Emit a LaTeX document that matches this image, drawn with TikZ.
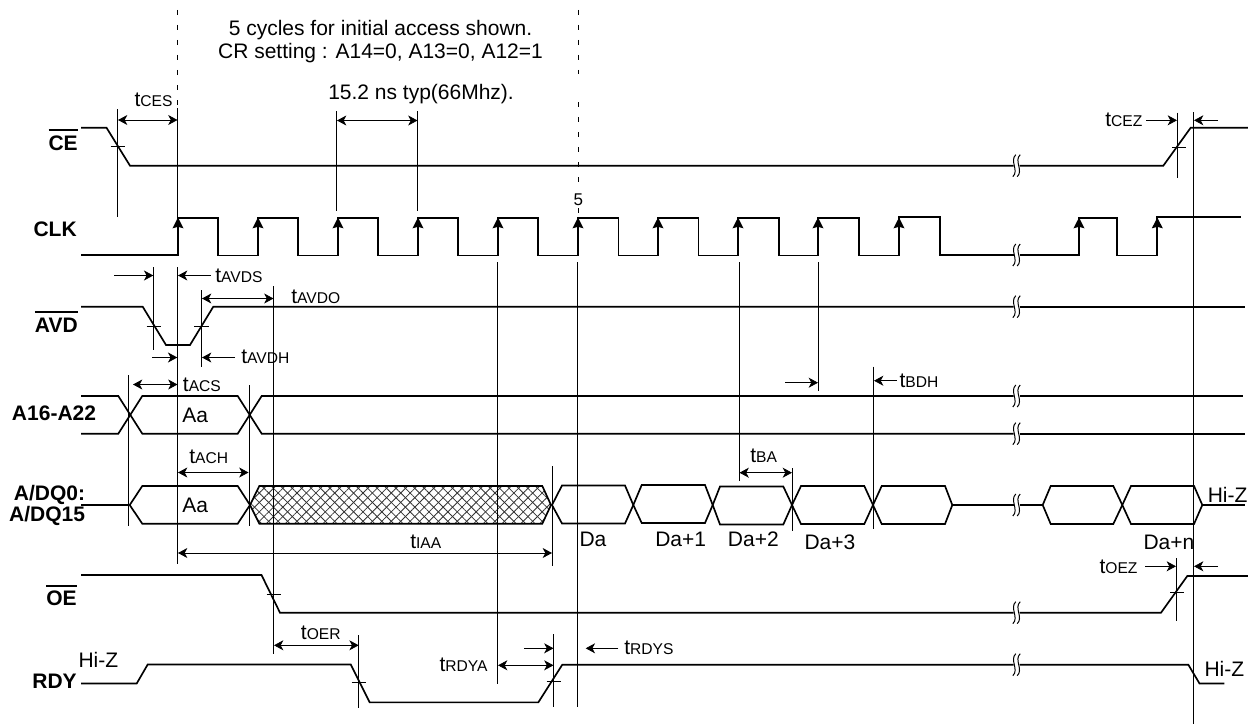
\documentclass[tikz,border=0pt]{standalone}
\usepackage{fontspec}
\setmainfont{Liberation Sans}
\usetikzlibrary{arrows.meta,patterns.meta}
\newcommand{\tm}[1]{t{\fontsize{11.7pt}{12pt}\selectfont #1}}
\newcommand{\ovbar}[1]{\leavevmode\vbox{\hrule height 1.5pt \kern 3.2pt \hbox{#1}}}
\begin{document}
\begin{tikzpicture}
[x=0.75pt,y=-0.75pt,
sig/.style={line width=1.25pt,line join=miter},
guide/.style={line width=0.7pt},
gapline/.style={line width=0.7pt,dash pattern=on 3.75pt off 7.5pt},
dim/.style={line width=0.6pt,{Stealth[length=7pt,width=7.5pt,inset=2pt]}-{Stealth[length=7pt,width=7.5pt,inset=2pt]}},
oneway/.style={line width=0.6pt,-{Stealth[length=7pt,width=7.5pt,inset=2pt]}},
clkedge/.style={line width=1.25pt,-{Stealth[length=8pt,width=8pt,inset=1pt]}},
wave/.style={line width=0.75pt},
lab/.style={anchor=base west,inner sep=0pt,font=\fontsize{15.75pt}{16pt}\selectfont},
signame/.style={anchor=base east,inner sep=0pt,font=\fontsize{15.75pt}{21pt}\selectfont\bfseries}]
\clip (0,0) rectangle (1248,724);
%notes
	\node[lab,anchor=base] (notea) at (380.5,36) {5 cycles for initial access shown.};
	\node[lab,anchor=base] (noteb) at (380.5,59) {CR setting : A14=0, A13=0, A12=1};
	\node[lab] (notec) at (328,99) {15.2 ns typ(66Mhz).};
	\node[lab,anchor=base,font=\fontsize{12.75pt}{13pt}\selectfont] (five) at (578.3,205) {5};
%dashed
	\draw[gapline] (177.5,10) -- (177.5,108);
	\draw[gapline] (578.3,10) -- (578.3,74);
	\draw[gapline] (578.3,102) -- (578.3,185);
	\draw[guide] (578.3,208) -- (578.3,213);
%CE
	\draw[sig] (81,127.7) -- (106.5,127.7) -- (130,165.7) -- (1013.5,165.7);
	\draw[sig] (1019.5,165.7) -- (1163.3,165.7) -- (1190.7,127.7) -- (1248,127.7);
%CLK
	\draw[sig] (81,255) -- (178,255) -- (178,218) -- (218,218) -- (218,255.5) -- (258,255.5) -- (258,218) -- (298,218) -- (298,255.5) -- (338,255.5) -- (338,218) -- (378,218) -- (378,255.5) -- (418,255.5) -- (418,218) -- (458,218) -- (458,255.5) -- (498,255.5) -- (498,218) -- (538,218) -- (538,255.5) -- (578,255.5) -- (578,218) -- (618.5,218) -- (618.5,255.5) -- (658,255.5) -- (658,218) -- (698.5,218) -- (698.5,255.5) -- (738,255.5) -- (738,218) -- (779,218) -- (779,255.5) -- (818,255.5) -- (818,218) -- (859,218) -- (859,255.5) -- (899,255.5) -- (899,217) -- (940,217) -- (940,255) -- (1013.5,255);
	\draw[sig] (1019.5,255) -- (1079,255) -- (1079,218) -- (1116.7,218) -- (1116.7,255.5) -- (1157.3,255.5) -- (1157.3,217) -- (1241,217);
\foreach \x in {178,258,338,418,498,578,658,738,818,899,1079,1157.3}
{
	\draw[clkedge] (\x,235) -- (\x,217.5);
}
%AVD
	\draw[sig] (81,306.7) -- (142.7,306.7) -- (166,345) -- (190,345) -- (213.3,306.7) -- (1013.5,306.7);
	\draw[sig] (1019.5,306.7) -- (1245,306.7);
%A16-A22
	\draw[sig] (81,396) -- (118.3,396) -- (142.3,433.7) -- (237.7,433.7) -- (261.7,396) -- (1013.5,396);
	\draw[sig] (1019.5,396) -- (1243,396);
	\draw[sig] (81,433.7) -- (118.3,433.7) -- (142.3,396) -- (237.7,396) -- (261.7,433.7) -- (1013.5,433.7);
	\draw[sig] (1019.5,433.7) -- (1245,433.7);
%A/DQ
	\draw[sig] (81,505) -- (129.7,505) -- (142.3,486) -- (237.7,486) -- (250,505) -- (237.7,523.7) -- (142.3,523.7) -- (129.7,505);
	\fill[white] (250,505) -- (259.3,486) -- (542.3,486) -- (551,505) -- (542.3,523.7) -- (259.3,523.7) -- cycle;
	\fill[pattern={Lines[angle=45,distance=5pt,line width=.6pt]},pattern color=black!80] (250,505) -- (259.3,486) -- (542.3,486) -- (551,505) -- (542.3,523.7) -- (259.3,523.7) -- cycle;
	\fill[pattern={Lines[angle=-45,distance=5pt,line width=.6pt]},pattern color=black!80] (250,505) -- (259.3,486) -- (542.3,486) -- (551,505) -- (542.3,523.7) -- (259.3,523.7) -- cycle;
	\draw[sig] (250,505) -- (259.3,486) -- (542.3,486) -- (551,505) -- (542.3,523.7) -- (259.3,523.7) -- cycle;
\foreach \a / \b / \c / \d / \t in {552/562/625/633.3/485.5,633.3/641.7/705/712.7/485,712.7/720/783.3/792/486.5,792/801/864.3/873/486,873/881.7/945/952.3/486,1042.7/1050.7/1113.3/1122.3/486,1122.3/1131/1194/1202.3/486}
{
	\draw[sig] (\a,505) -- (\b,\t) -- (\c,\t) -- (\d,505) -- (\c,\t+38) -- (\b,\t+38) -- cycle;
}
	\draw[sig] (952.3,505) -- (1013.5,505);
	\draw[sig] (1019.5,505) -- (1042.7,505);
	\draw[sig] (1202.3,505) -- (1245,505);
%OE
	\draw[sig] (81,575) -- (261.5,575) -- (280,612.7) -- (1013.5,612.7);
	\draw[sig] (1019.5,612.7) -- (1161,612.7) -- (1187.3,576) -- (1248,576);
%RDY
	\draw[sig] (81,683.5) -- (136.7,683.5) -- (147.7,664.5) -- (350.7,664.5) -- (369.7,702.4) -- (538.3,702.4) -- (562.3,664.7) -- (1013.5,664.7);
	\draw[sig] (1019.5,664.7) -- (1188.3,664.7) -- (1199.5,683.5) -- (1224.3,683.5);
%breaks
\foreach \y in {165.7,255,306.7,396,433.7,505,612.7,664.7}
{
	\draw[wave,shift={(1014.3,\y)}] (1.5,-11) .. controls (-5,-5) and (5,5) .. (-1.5,11);
	\draw[wave,shift={(1018.7,\y)}] (1.5,-11) .. controls (-5,-5) and (5,5) .. (-1.5,11);
}
%vertical guides
\foreach \x / \p / \q in {117.5/109/217,177.5/108/218,336.5/111/211,417.5/111/211,177.5/267/564,153.5/267/350,201.5/290/367,273.5/286/654,128.5/375/526,249/385/525.5,552.3/466/565.7,497.3/262/684.3,577.3/262/706.7,739/262/480.7,818.3/262/390.7,792.3/468.3/530.7,873.3/366.7/529.3,1193.3/112/724,1177.3/112.7/177.7,1176.3/558.3/620.7,358.7/635/707.7,553.7/634/707.3}
{
	\draw[guide] (\x,\p) -- (\x,\q);
}
%ticks
\foreach \x / \y / \w in {117.5/146.5/7,153.5/326.5/7,201.5/326.5/7.5,273.5/594.3/7,358.7/682.3/7,553.7/681.3/7,1179/147.3/7,1177/592/7}
{
	\draw[guide] (\x-\w,\y) -- (\x+\w,\y);
}
%two way arrows
\foreach \a / \b / \y in {118/177.5/120,337/417.5/120.5,202/273.5/298.5,133/177.5/384.5,178/248.5/472.5,178/552/553,739.5/792/472.7,274/358.7/645.3,498/553.5/665.3}
{
	\draw[dim] (\a,\y) -- (\b,\y);
}
%one way arrows
\foreach \a / \b / \y in {114/153.3/275.5,210.5/178/275.5,152/177.3/357.5,235/202/357.5,785/818/382.7,896.7/874/380.7,524/553.5/648.3,618.3/585.7/648.3,1146/1177/120.3,1218/1194/120.3,1145/1176/566.3,1218/1194/566.3}
{
	\draw[oneway] (\a,\y) -- (\b,\y);
}
%timing labels
\foreach \s / \x / \y in {CES/134.3/106.7,AVDS/215/282.7,AVDO/291/303.3,AVDH/241/363.3,ACS/182.7/391,ACH/189/463.3,IAA/410/548,BA/750/462,BDH/899.3/387.7,OER/300.7/639.3,RDYA/439.3/671,RDYS/624/654,CEZ/1105/126.7,OEZ/1099.3/573}
{
	\node[lab] (t\s) at (\x,\y) {\tm{\s}};
}
%data labels
\foreach \n / \s / \x / \y in {aa/Aa/182/422.7,ab/Aa/182/512.7,da/Da/579.3/546.7,db/Da+1/655/546.7,dc/Da+2/727.7/546.7,dd/Da+3/804.3/549,dn/Da+n/1143.3/549,za/Hi-Z/1207.5/502.7,zb/Hi-Z/78.3/667.3,zc/Hi-Z/1204.3/676}
{
	\node[lab] (\n) at (\x,\y) {\s};
}
%signal names
	\node[signame] (ce) at (78,150) {\ovbar{CE}};
	\node[signame] (clk) at (77,236.7) {CLK};
	\node[signame] (avd) at (78,332) {\ovbar{AVD}};
	\node[signame] (addr) at (96.3,420.7) {A16-A22};
	\node[signame] (dqa) at (85.3,500.7) {A/DQ0:};
	\node[signame] (dqb) at (85.3,521.7) {A/DQ15};
	\node[signame] (oe) at (77,605.7) {\ovbar{OE}};
	\node[signame] (rdy) at (77,688) {RDY};
\end{tikzpicture}
\end{document}
